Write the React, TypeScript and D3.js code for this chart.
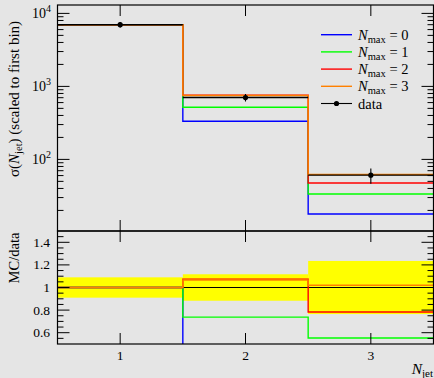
import React from 'react';
import * as d3 from 'd3';

// bins in N_jet
const binEdges = [0.5, 1.5, 2.5, 3.5];
const binCenters = [1, 2, 3];
const xTickLabels = ['1', '2', '3'];

// data, scaled to first bin, and relative uncertainty
const dataValues = [7000, 703, 60.8];
const dataRelErr = [0.09, 0.117, 0.235];

// MC predictions for N_max = 0..3
const nmax0 = [7000, 333, 17.9];
const nmax1 = [7000, 519, 33.6];
const nmax2 = [7000, 755, 47.6];
const nmax3 = [7000, 750, 62];
const seriesLabels = ['0', '1', '2', '3'];
const seriesColors = ['#0000ff', '#00ff00', '#ff0000', '#ff8000'];

const decadeTicks = [100, 1000, 10000];
const decadeExponents = ['2', '3', '4'];
const ratioTicks = [0.6, 0.8, 1, 1.2, 1.4];
const ratioTickLabels = ['0.6', '0.8', '1', '1.2', '1.4'];

const W = 434;
const H = 378;
const L = 57.5;
const R = 433.5;
const T = 5;
const M = 231;
const B = 344;
const FONT = 'Liberation Serif, DejaVu Serif, serif';

const App = () => {
    const series = [nmax0, nmax1, nmax2, nmax3];

    const x = d3.scaleLinear().domain([0.5, 3.5]).range([L, R]);
    const yUp = d3.scaleLog().domain([10.45, 13030]).range([M, T]);
    const yLow = d3.scaleLinear().domain([0.5, 1.5]).range([B, M]);

    const step = d3.line<[number, number]>().curve(d3.curveStepAfter);
    const stepPath = (vals: number[], y: (v: number) => number) =>
        step(binEdges.map((e, i) => [x(e), y(vals[Math.min(i, vals.length - 1)])] as [number, number]));

    // minor ticks of the log axis
    const logMinor: number[] = [];
    [10, 100, 1000, 10000].forEach(d => {
        for (let k = 2; k <= 9; k++) {
            const v = k * d;
            if (v > yUp.domain()[0] && v < yUp.domain()[1]) logMinor.push(v);
        }
    });
    const ratioMinor = d3.range(11, 30).map(i => i * 0.05).filter(v => !ratioTicks.some(t => Math.abs(t - v) < 1e-6));

    const yTick = (y: number, len: number, key: string) => (
        <g key={key}>
            <line x1={L} x2={L + len} y1={y} y2={y} stroke="#000" strokeWidth={1} />
            <line x1={R - len} x2={R} y1={y} y2={y} stroke="#000" strokeWidth={1} />
        </g>
    );

    const xTicks = (top: number, bottom: number, pre: string) => binCenters.map((c, i) => (
        <g key={pre + i}>
            <line x1={x(c)} x2={x(c)} y1={top} y2={top + 11} stroke="#000" />
            <line x1={x(c)} x2={x(c)} y1={bottom - 11} y2={bottom} stroke="#000" />
        </g>
    ));

    return (
        <svg width={W} height={H} fontFamily={FONT} style={{ position: 'absolute', left: 0, top: 0, background: '#e5e5e5' }}>
            <defs>
                <clipPath id="clip-up"><rect x={L} y={T} width={R - L} height={M - T} /></clipPath>
                <clipPath id="clip-low"><rect x={L} y={M} width={R - L} height={B - M} /></clipPath>
            </defs>

            {/* upper panel: histograms */}
            <g clipPath="url(#clip-up)">
                {series.map((s, i) => (
                    <path key={i} d={stepPath(s, yUp) || ''} fill="none" stroke={seriesColors[i]} strokeWidth={1.4} />
                ))}
                {dataValues.map((v, i) => (
                    <g key={i}>
                        <line x1={x(binEdges[i])} x2={x(binEdges[i + 1])} y1={yUp(v)} y2={yUp(v)} stroke="#000" strokeWidth={1.4} />
                        <line x1={x(binCenters[i])} x2={x(binCenters[i])} y1={yUp(v * (1 - dataRelErr[i]))} y2={yUp(v * (1 + dataRelErr[i]))} stroke="#000" strokeWidth={1.1} />
                        <circle cx={x(binCenters[i])} cy={yUp(v)} r={2.6} fill="#000" />
                    </g>
                ))}
            </g>

            {/* lower panel: ratio */}
            <g clipPath="url(#clip-low)">
                {dataValues.map((v, i) => (
                    <rect key={i} x={x(binEdges[i])} width={x(binEdges[i + 1]) - x(binEdges[i])}
                        y={yLow(1 + dataRelErr[i])} height={yLow(1 - dataRelErr[i]) - yLow(1 + dataRelErr[i])} fill="#ffff00" />
                ))}
                <line x1={L} x2={R} y1={yLow(1)} y2={yLow(1)} stroke="#000" strokeWidth={1.1} />
                {series.map((s, i) => (
                    <path key={i} d={stepPath(s.map((v, j) => v / dataValues[j]), yLow) || ''} fill="none" stroke={seriesColors[i]} strokeWidth={1.4} />
                ))}
            </g>

            {/* ticks */}
            {decadeTicks.map((v, i) => yTick(yUp(v), 12, 'dm' + i))}
            {logMinor.map((v, i) => yTick(yUp(v), 6, 'dn' + i))}
            {ratioTicks.map((v, i) => yTick(yLow(v), 12, 'rm' + i))}
            {ratioMinor.map((v, i) => yTick(yLow(v), 6, 'rn' + i))}
            {xTicks(T, M, 'u')}
            {xTicks(M, B, 'l')}

            {/* frames */}
            <rect x={L} y={T} width={R - L} height={M - T} fill="none" stroke="#000" strokeWidth={1.2} />
            <rect x={L} y={M} width={R - L} height={B - M} fill="none" stroke="#000" strokeWidth={1.2} />

            {/* tick labels */}
            {decadeTicks.map((v, i) => (
                <text key={i} x={51} y={yUp(v) + 5} textAnchor="end" fontSize={14} fill="#000">
                    10<tspan fontSize={10} dy={-6}>{decadeExponents[i]}</tspan>
                </text>
            ))}
            {ratioTicks.map((v, i) => (
                <text key={i} x={50} y={yLow(v) + 4.5} textAnchor="end" fontSize={13.5} fill="#000">{ratioTickLabels[i]}</text>
            ))}
            {binCenters.map((c, i) => (
                <text key={i} x={x(c)} y={360} textAnchor="middle" fontSize={13.5} fill="#000">{xTickLabels[i]}</text>
            ))}

            {/* axis labels */}
            <text transform="translate(19,99) rotate(-90)" textAnchor="middle" fontSize={15} fill="#000">
                σ(<tspan fontStyle="italic">N</tspan><tspan fontSize={10.5} dy={3}>jet</tspan><tspan dy={-3}>) (scaled to first bin)</tspan>
            </text>
            <text transform="translate(19,258) rotate(-90)" textAnchor="middle" fontSize={14.5} fill="#000">MC/data</text>
            <text x={433} y={374} textAnchor="end" fontSize={15.5} fill="#000">
                <tspan fontStyle="italic">N</tspan><tspan fontSize={11} dy={3}>jet</tspan>
            </text>

            {/* legend */}
            {seriesLabels.map((lab, i) => (
                <g key={i} transform={`translate(0,${34.7 + i * 17.2})`}>
                    <line x1={321} x2={352} y1={0} y2={0} stroke={seriesColors[i]} strokeWidth={1.4} />
                    <text x={358} y={5} fontSize={14.5} fill="#000">
                        <tspan fontStyle="italic">N</tspan><tspan fontSize={10.5} dy={3}>max</tspan><tspan dy={-3}> = {lab}</tspan>
                    </text>
                </g>
            ))}
            <g transform={`translate(0,${34.7 + 4 * 17.2})`}>
                <line x1={321} x2={352} y1={0} y2={0} stroke="#000" strokeWidth={1.1} />
                <circle cx={336.5} cy={0} r={2.6} fill="#000" />
                <text x={358} y={5} fontSize={14.5} fill="#000">data</text>
            </g>
        </svg>
    );
};

export default App;
